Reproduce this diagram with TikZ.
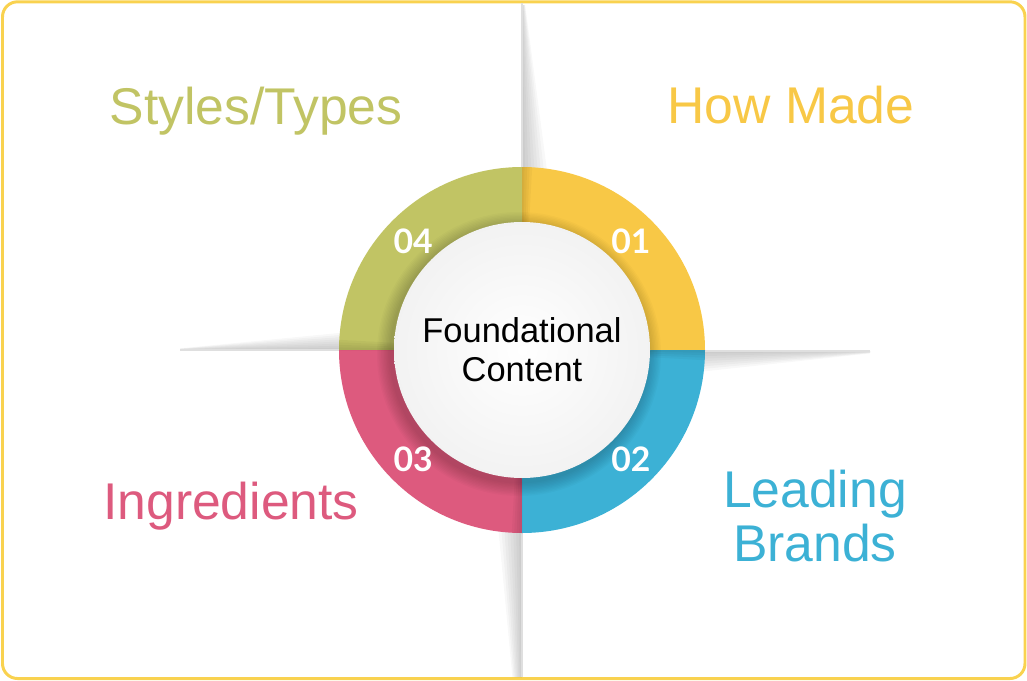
\documentclass[tikz,border=0pt]{standalone}
\usepackage{fontspec}
\setmainfont{Liberation Sans}
\newfontfamily\numfont{Lato}
\definecolor{frameyellow}{HTML}{F9D24F}
\definecolor{howyellow}{HTML}{F8C846}
\definecolor{brandblue}{HTML}{3CB1D5}
\definecolor{ingrpink}{HTML}{DD5A7E}
\definecolor{styleolive}{HTML}{C1C464}
\tikzset{
    quadtitle/.style={font=\fontsize{14.7pt}{15.1pt}\selectfont, inner sep=0pt},
    ringnum/.style={font=\numfont\bfseries\fontsize{9.6pt}{10pt}\selectfont, text=white, inner sep=0pt},
    coretext/.style={font=\fontsize{9.8pt}{11.1pt}\selectfont, align=center, inner sep=0pt},
    gapline/.style={gray!25, line width=0.4pt},
    gapshade/.style={black, opacity=0.028}
}
\begin{document}
\begin{tikzpicture}
            \useasboundingbox (0, 0) rectangle (10.27, -6.81);
            \draw[frameyellow, line width=0.85pt, rounded corners=0.15cm] (0.025, -0.018) rectangle (10.25, -6.785);
            \coordinate (c) at (5.22, -3.50);
            % soft shadows of the four gaps
            \foreach \k in {1, ..., 8} {
                \fill[gapshade] (5.22, -1.75) -- ++(\k*0.032, 0) -- (5.22 + \k*0.004, -0.05) -- (5.22, -0.05) -- cycle;
                \fill[gapshade] (5.22, -5.25) -- ++(-\k*0.03, 0) -- (5.22 - \k*0.012, -6.77) -- (5.22, -6.77) -- cycle;
                \fill[gapshade] (3.45, -3.50) -- ++(0, \k*0.022) -- (1.80, -3.50 + \k*0.002) -- (1.80, -3.50) -- cycle;
                \fill[gapshade] (7.00, -3.51) -- ++(0, -\k*0.026) -- (8.70, -3.51 - \k*0.003) -- (8.70, -3.51) -- cycle;
            }
            \draw[gapline] (5.22, -0.03) -- (5.22, -1.7);
            \draw[gapline] (5.22, -5.3) -- (5.22, -6.77);
            \draw[gapline] (1.80, -3.50) -- (3.4, -3.50);
            \draw[gapline] (7.05, -3.51) -- (8.70, -3.51);
            % ring
            \foreach \col/\a in {howyellow/0, styleolive/90, ingrpink/180, brandblue/270}
                \fill[\col] (c) -- ++(\a:1.83) arc[start angle=\a, delta angle=90, radius=1.83] -- cycle;
            \foreach \a in {90, 180, 270, 360}
                \foreach \k in {1, ..., 4}
                    \fill[black, opacity=0.03] (c) -- ++(\a-\k*0.8:1.83) arc[start angle=\a-\k*0.8, end angle=\a, radius=1.83] -- cycle;
            \foreach \k in {1, ..., 10}
                \fill[black, opacity=0.018] ([shift={(-0.03, -0.04)}]c) circle ({1.28 + \k*0.014});
            \shade[inner color=white, outer color=gray!10] (c) circle (1.28);
            \node[coretext] (core) at (c) {Foundational\\Content};
            \node[ringnum] (n01) at ([shift={(45:1.54)}]c) {01};
            \node[ringnum] (n02) at ([shift={(-45:1.54)}]c) {02};
            \node[ringnum] (n03) at ([shift={(-135:1.54)}]c) {03};
            \node[ringnum] (n04) at ([shift={(135:1.54)}]c) {04};
            % quadrant titles
            \node[quadtitle, text=styleolive, anchor=base] (styles) at (2.56, -1.24) {Styles/Types};
            \node[quadtitle, text=howyellow, anchor=base] (howmade) at (7.91, -1.23) {How Made};
            \node[quadtitle, text=ingrpink, anchor=base] (ingr) at (2.31, -5.19) {Ingredients};
            \node[quadtitle, text=brandblue, align=center] (brands) at (8.15, -5.16) {Leading\\Brands};
\end{tikzpicture}
\end{document}
